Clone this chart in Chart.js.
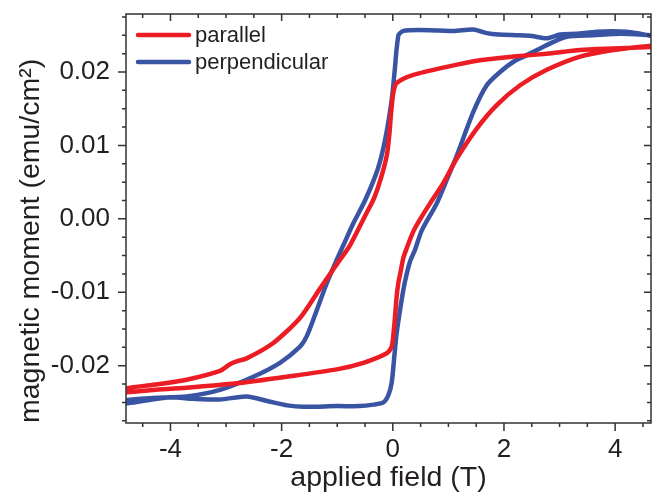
<!DOCTYPE html>
<html>
<head>
<meta charset="utf-8">
<script src="https://cdn.jsdelivr.net/npm/chart.js@4.4.1/dist/chart.umd.min.js"></script>
<style>
  html, body { margin: 0; padding: 0; background: #fff; }
  #wrap { width: 652px; height: 494px; }
</style>
</head>
<body>
<div id="wrap"><canvas id="loop"></canvas></div>
<script>
// parallel: upper branch (field down) then lower branch (field up)
const parallelField = [
  4.66, 3.97, 3.37, 2.77, 2.17, 1.57, 0.97, 0.37, 0.07, 0.01, -0.03, -0.06, -0.10, -0.17,
  -0.27, -0.35, -0.50, -0.77, -1.01, -1.31, -1.67, -2.15, -2.63, -2.81, -2.93, -3.11, -3.71, -4.31, -4.80,
  -4.80, -4.31, -3.71, -2.81, -1.91, -1.01, -0.53, -0.11, -0.02, 0.02, 0.04, 0.07, 0.10, 0.13,
  0.19, 0.25, 0.37, 0.52, 0.67, 0.91, 1.15, 1.51, 1.87, 2.29, 2.77, 3.37, 3.97, 4.66
];
const parallelMoment = [
  0.0234, 0.0232, 0.0230, 0.0225, 0.0221, 0.0216, 0.0207, 0.0196, 0.0185, 0.0172, 0.0145, 0.0117, 0.0090, 0.0067,
  0.0042, 0.0026, 0.0004, -0.0036, -0.0062, -0.0095, -0.0135, -0.0169, -0.0190, -0.0194, -0.0198, -0.0207, -0.0219, -0.0226, -0.0231,
  -0.0236, -0.0233, -0.0230, -0.0224, -0.0215, -0.0205, -0.0196, -0.0183, -0.0174, -0.0150, -0.0133, -0.0105, -0.0087, -0.0076,
  -0.0053, -0.0040, -0.0017, 0.0003, 0.0021, 0.0049, 0.0082, 0.0123, 0.0155, 0.0182, 0.0203, 0.0221, 0.0230, 0.0236
];

// perpendicular: upper branch (field down) then lower branch (field up)
const perpField = [
  4.66, 4.45, 4.21, 3.67, 3.30, 3.01, 2.77, 2.50, 2.29, 1.90, 1.69, 1.45, 1.10, 0.67, 0.30, 0.19, 0.13, 0.10,
  0.06, 0.04, -0.02, -0.14, -0.27, -0.50, -0.71, -0.89, -1.01, -1.19, -1.41, -1.55, -1.67, -2.03, -2.51,
  -3.11, -3.71, -4.31, -4.80,
  -4.80, -4.50, -4.00, -3.60, -3.11, -2.63, -2.21, -1.90, -1.61, -1.01, -0.60, -0.35, -0.17, -0.08, -0.02,
  0.03, 0.07, 0.16, 0.22, 0.31, 0.40, 0.52, 0.79, 0.97, 1.15, 1.45, 1.69, 1.93, 2.17, 2.41, 2.65, 2.89,
  3.13, 3.61, 4.10, 4.66
];
const perpMoment = [
  0.0249, 0.0252, 0.0255, 0.0255, 0.0252, 0.0251, 0.0246, 0.0249, 0.0250, 0.0251, 0.0253, 0.0258, 0.0256, 0.0257, 0.0257, 0.0256, 0.0253, 0.0250,
  0.0225, 0.0207, 0.0162, 0.0107, 0.0068, 0.0025, -0.0006, -0.0036, -0.0056, -0.0088, -0.0133, -0.0160, -0.0174, -0.0196, -0.0215,
  -0.0233, -0.0242, -0.0244, -0.0247,
  -0.0251, -0.0248, -0.0243, -0.0245, -0.0246, -0.0242, -0.0249, -0.0254, -0.0256, -0.0255, -0.0255, -0.0253, -0.0250, -0.0240, -0.0223,
  -0.0185, -0.0155, -0.0110, -0.0085, -0.0058, -0.0042, -0.0016, 0.0021, 0.0053, 0.0086, 0.0146, 0.0182, 0.0200, 0.0214, 0.0223, 0.0232, 0.0241,
  0.0248, 0.0250, 0.0252, 0.0250
];

const seriesNames = ["parallel", "perpendicular"];
const seriesColors = ["#ec1c24", "#3a54a4"];

const xTicks = [-4, -2, 0, 2, 4];
const yTicks = [-0.02, -0.01, 0.00, 0.01, 0.02];

const FONT = "'Liberation Sans', Arial, Helvetica, sans-serif";
const INK = "#231f20";

function toPoints(xs, ys) {
  return xs.map((x, i) => ({ x: x, y: ys[i] }));
}

// frame, ticks (out on left/bottom, in on top/right) and legend
const framePlugin = {
  id: "frame",
  afterDraw(chart) {
    const { ctx, chartArea: a, scales } = chart;
    const xs = scales.x, ys = scales.y;
    ctx.save();
    ctx.strokeStyle = "#333";
    ctx.lineWidth = 1.5;
    ctx.strokeRect(a.left, a.top, a.right - a.left, a.bottom - a.top);

    ctx.beginPath();
    for (let k = -9; k <= 9; k++) {
      const v = k * 0.5;
      const px = xs.getPixelForValue(v);
      if (px < a.left - 0.5 || px > a.right + 0.5) continue;
      const major = k % 4 === 0;
      const len = major ? 8 : 4;
      ctx.moveTo(px, a.bottom); ctx.lineTo(px, a.bottom + len);
      ctx.moveTo(px, a.top); ctx.lineTo(px, a.top + (major ? 7 : 4));
    }
    for (let k = -11; k <= 11; k++) {
      const v = k * 0.0025;
      const py = ys.getPixelForValue(v);
      if (py < a.top - 0.5 || py > a.bottom + 0.5) continue;
      const major = k % 4 === 0;
      const len = major ? 8 : 4;
      ctx.moveTo(a.left, py); ctx.lineTo(a.left - len, py);
      ctx.moveTo(a.right, py); ctx.lineTo(a.right - (major ? 7 : 4), py);
    }
    ctx.stroke();

    // legend
    ctx.font = "22px " + FONT;
    ctx.textBaseline = "middle";
    ctx.textAlign = "left";
    chart.data.datasets.forEach((ds, i) => {
      const y = 35 + i * 27;
      ctx.strokeStyle = ds.borderColor;
      ctx.lineWidth = 4.5;
      ctx.lineCap = "round";
      ctx.beginPath();
      ctx.moveTo(138, y); ctx.lineTo(189, y);
      ctx.stroke();
      ctx.fillStyle = INK;
      ctx.fillText(ds.label, 195, y + 1);
    });
    ctx.restore();
  }
};

new Chart(document.getElementById("loop"), {
  type: "line",
  data: {
    datasets: [
      {
        label: seriesNames[0],
        data: toPoints(parallelField, parallelMoment),
        borderColor: seriesColors[0],
        borderWidth: 4.5,
        pointRadius: 0,
        tension: 0.25,
        fill: false
      },
      {
        label: seriesNames[1],
        data: toPoints(perpField, perpMoment),
        borderColor: seriesColors[1],
        borderWidth: 4.5,
        pointRadius: 0,
        tension: 0.25,
        fill: false
      }
    ]
  },
  plugins: [framePlugin],
  options: {
    responsive: true,
    maintainAspectRatio: false,
    animation: false,
    layout: { padding: { top: 14, right: 1, left: 0, bottom: 0 } },
    plugins: { legend: { display: false }, tooltip: { enabled: false } },
    scales: {
      x: {
        type: "linear",
        min: -4.8,
        max: 4.645,
        grid: { display: false, drawTicks: false },
        border: { display: false },
        afterBuildTicks: (s) => { s.ticks = xTicks.map(v => ({ value: v })); },
        afterFit: (s) => { s.height = 71; s.paddingLeft = 0; s.paddingRight = 0; },
        ticks: {
          padding: 11,
          color: INK,
          font: { family: FONT, size: 26 },
          callback: (v) => String(v)
        },
        title: {
          display: true,
          text: "applied field (T)",
          color: INK,
          font: { family: FONT, size: 28.5, lineHeight: 1.1 },
          padding: { top: 0, bottom: 0 }
        }
      },
      y: {
        type: "linear",
        min: -0.0278,
        max: 0.0279,
        grid: { display: false, drawTicks: false },
        border: { display: false },
        afterBuildTicks: (s) => { s.ticks = yTicks.map(v => ({ value: v })); },
        afterFit: (s) => { s.width = 126; s.paddingTop = 0; s.paddingBottom = 0; },
        ticks: {
          padding: 16,
          color: INK,
          font: { family: FONT, size: 26 },
          callback: (v) => (Math.abs(v) < 1e-9 ? "0.00" : v.toFixed(2))
        },
        title: {
          display: true,
          text: "magnetic moment (emu/cm²)",
          align: "start",
          color: INK,
          font: { family: FONT, size: 28.5, lineHeight: 1.1 },
          padding: { top: 15, bottom: 0 }
        }
      }
    }
  }
});
</script>
</body>
</html>
